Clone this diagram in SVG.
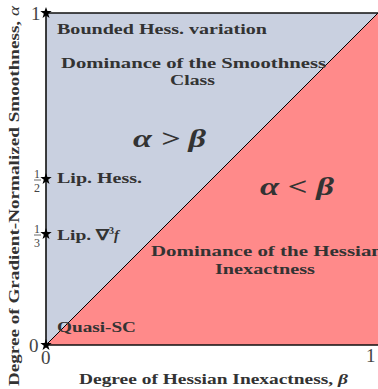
<svg xmlns="http://www.w3.org/2000/svg" width="378" height="389" viewBox="0 0 378 389" font-family="Liberation Serif, Times New Roman, serif">
<style>
text{font-family:'Liberation Serif','Times New Roman',serif}
.lbl{font-weight:bold;font-size:15px;fill:#333}
.tick{font-size:19px;fill:#444}
.frac{font-size:12px;fill:#444}
.math{font-weight:bold;font-style:italic;font-size:25px;fill:#333}
.axis{font-weight:bold;font-size:14px;fill:#333}
.star{fill:#000}
</style>
<defs>
<polygon id="star" points="0,-6 1.4,-1.9 5.7,-1.9 2.2,0.7 3.5,4.9 0,2.4 -3.5,4.9 -2.2,0.7 -5.7,-1.9 -1.4,-1.9"/>
</defs>
<g id="regions">
<polygon id="upper" points="46,13 378,13 46,345" fill="#c9d0e0"/>
<polygon id="lower" points="46,345 378,13 378,345" fill="#ff8a8a"/>
</g>
<g id="connectors">
<line x1="46" y1="345" x2="378" y2="13" stroke="#000" stroke-width="1"/>
<polyline points="378,13 46,13 46,345 378,345" fill="none" stroke="#111" stroke-width="1.6"/>
</g>
<g id="texts-upper">
<text class="lbl" x="57" y="34" textLength="210" lengthAdjust="spacingAndGlyphs">Bounded Hess. variation</text>
<text class="lbl" x="61" y="68" textLength="265" lengthAdjust="spacingAndGlyphs">Dominance of the Smoothness</text>
<text class="lbl" x="170" y="85" textLength="45" lengthAdjust="spacingAndGlyphs">Class</text>
<text class="math" x="133" y="147" textLength="73" lengthAdjust="spacingAndGlyphs">α &gt; β</text>
</g>
<g id="texts-lower">
<text class="math" x="260" y="195" textLength="74" lengthAdjust="spacingAndGlyphs">α &lt; β</text>
<text class="lbl" x="151" y="256" textLength="232" lengthAdjust="spacingAndGlyphs">Dominance of the Hessian</text>
<text class="lbl" x="215" y="274" textLength="100" lengthAdjust="spacingAndGlyphs">Inexactness</text>
</g>
<g id="node-top">
<use href="#star" x="46" y="13" class="star"/>
<text class="tick" x="31" y="20">1</text>
</g>
<g id="node-half">
<use href="#star" x="46" y="179" class="star"/>
<text class="frac" x="34" y="178">1</text>
<line x1="34" y1="180" x2="41" y2="180" stroke="#444" stroke-width="0.8"/>
<text class="frac" x="34" y="192">2</text>
<text class="lbl" x="57" y="183" textLength="85" lengthAdjust="spacingAndGlyphs">Lip. Hess.</text>
</g>
<g id="node-third">
<use href="#star" x="46" y="234" class="star"/>
<text class="frac" x="34" y="233">1</text>
<line x1="34" y1="235" x2="41" y2="235" stroke="#444" stroke-width="0.8"/>
<text class="frac" x="34" y="247">3</text>
<text class="lbl" x="57" y="240"><tspan textLength="52" lengthAdjust="spacingAndGlyphs">Lip. ∇</tspan><tspan font-size="10" dy="-6">3</tspan><tspan dy="6" font-style="italic">f</tspan></text>
</g>
<g id="node-origin">
<use href="#star" x="46" y="345" class="star"/>
<text class="tick" x="29" y="352">0</text>
<text class="tick" x="41" y="364">0</text>
<text class="lbl" x="57" y="332" textLength="79" lengthAdjust="spacingAndGlyphs">Quasi-SC</text>
</g>
<g id="axes-labels">
<text class="tick" x="366" y="362">1</text>
<text class="axis" x="79" y="384" textLength="269" lengthAdjust="spacingAndGlyphs">Degree of Hessian Inexactness, <tspan font-style="italic">β</tspan></text>
<text class="axis" transform="translate(19,386) rotate(-90)" x="0" y="0" textLength="380" lengthAdjust="spacingAndGlyphs">Degree of Gradient-Normalized Smoothness, <tspan font-style="italic" font-weight="normal">α</tspan></text>
</g>
</svg>
